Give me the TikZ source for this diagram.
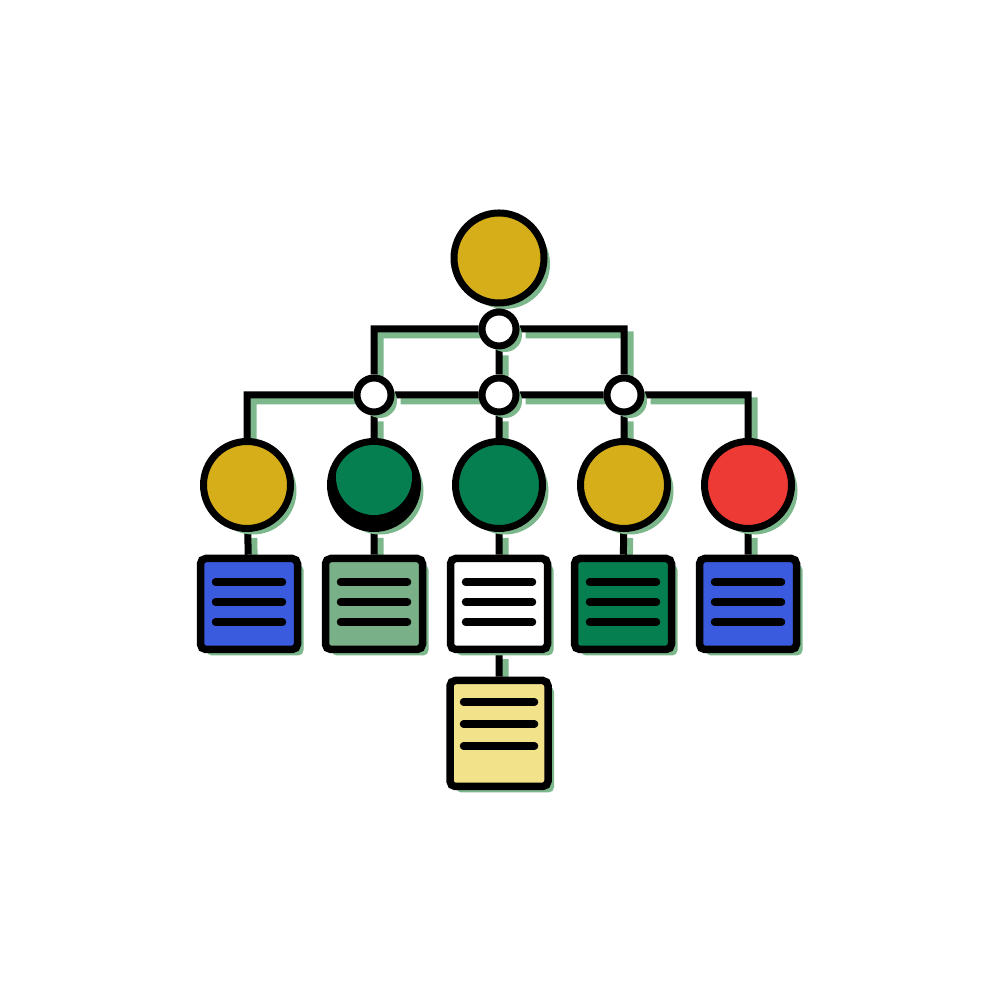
\documentclass[tikz,border=0pt]{standalone}
\usetikzlibrary{shadows,backgrounds}

\definecolor{gold}{HTML}{D6AE1A}
\definecolor{dkgreen}{HTML}{057F50}
\definecolor{tomato}{HTML}{EE3A35}
\definecolor{royal}{HTML}{3B5BDE}
\definecolor{sage}{HTML}{7AB088}
\definecolor{paleyellow}{HTML}{F2E38A}
\definecolor{shgreen}{HTML}{7DB88D}

\begin{document}
\begin{tikzpicture}
    [
        green drop/.style={drop shadow={shadow xshift=0.06cm, shadow yshift=-0.06cm, fill=shgreen, opacity=1}},
        top node/.style={circle, draw, line width=0.07cm, inner sep=0pt, minimum size=0.90cm, green drop},
        main node/.style={circle, draw, line width=0.07cm, inner sep=0pt, minimum size=0.87cm, green drop},
        knot node/.style={circle, draw, line width=0.07cm, inner sep=0pt, minimum size=0.34cm, fill=white, green drop},
        doc node/.style={rectangle, draw, line width=0.075cm, rounded corners=1.5pt, inner sep=0pt, minimum width=0.97cm, minimum height=0.91cm, green drop},
        link/.style={line width=0.07cm},
        bar/.style={line width=0.075cm, line cap=round}
    ]

    \useasboundingbox (0, 0) rectangle (10, 10);

    \node [top node, fill=gold] (r) at (4.99, 7.42) {};

    \node [knot node] (j0) at (4.99, 6.71) {};
    \node [knot node] (j1) at (3.74, 6.05) {};
    \node [knot node] (j2) at (4.99, 6.05) {};
    \node [knot node] (j3) at (6.24, 6.05) {};

    \node [main node, fill=gold] (c1) at (2.47, 5.15) {};
    \node [main node, fill=black] (c2) at (3.74, 5.15) {};
    \node [main node, fill=dkgreen] (c3) at (4.99, 5.15) {};
    \node [main node, fill=gold] (c4) at (6.24, 5.15) {};
    \node [main node, fill=tomato] (c5) at (7.48, 5.15) {};
    \begin{scope}
        \clip (c2.center) circle (0.40);
        \fill [dkgreen] ([yshift=0.08cm]c2.center) circle (0.38);
    \end{scope}

    \node [doc node, fill=royal] (b1) at (2.49, 3.96) {};
    \node [doc node, fill=sage] (b2) at (3.74, 3.96) {};
    \node [doc node, fill=white] (b3) at (4.99, 3.96) {};
    \node [doc node, fill=dkgreen] (b4) at (6.23, 3.96) {};
    \node [doc node, fill=royal] (b5) at (7.48, 3.96) {};
    \node [doc node, fill=paleyellow, minimum width=0.98cm, minimum height=1.06cm] (b6) at (4.99, 2.665) {};

    \foreach \b in {b1,b2,b3,b4,b5}
        \foreach \dy in {0.22,0.02,-0.18}
            \draw [bar] ([shift={(-0.335,\dy)}]\b.center) -- ([shift={(0.335,\dy)}]\b.center);
    \foreach \dy in {0.315,0.095,-0.125}
        \draw [bar] ([shift={(-0.355,\dy)}]b6.center) -- ([shift={(0.355,\dy)}]b6.center);

    \begin{scope}[on background layer]
        \foreach \dx/\col in {0.06/shgreen, 0/black}
            \draw [link, color=\col, transform canvas={shift={(\dx,-\dx)}}]
                (r) -- (j0)
                (j0) -| (j1) (j0) -| (j3) (j0) -- (j2)
                (j1) -- (j2) (j2) -- (j3)
                (j1) -| (c1) (j3) -| (c5)
                (j1) -- (c2) (j2) -- (c3) (j3) -- (c4)
                (c1) -- (b1) (c2) -- (b2) (c3) -- (b3) (c4) -- (b4) (c5) -- (b5)
                (b3) -- (b6);
    \end{scope}
\end{tikzpicture}
\end{document}
